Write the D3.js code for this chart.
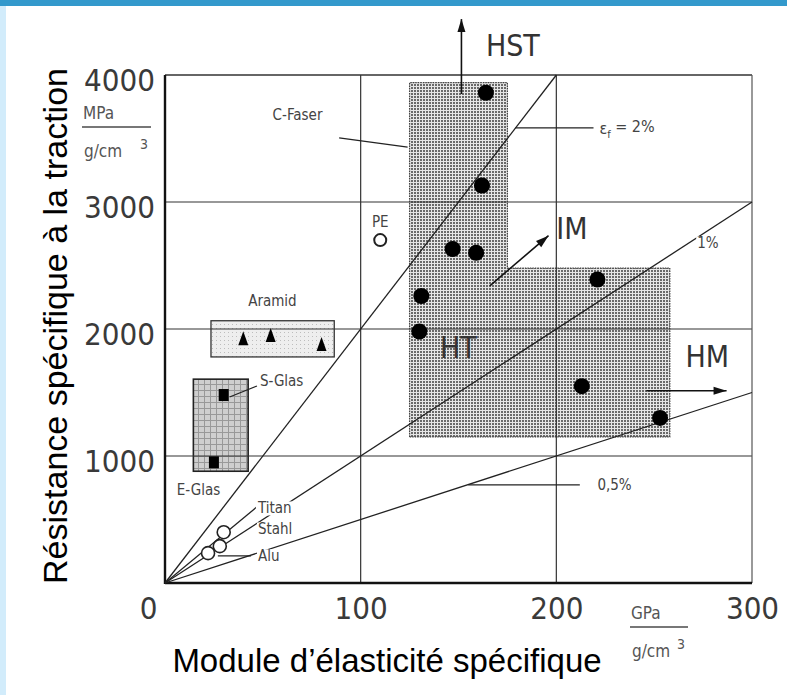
<!DOCTYPE html>
<html>
<head>
<meta charset="utf-8">
<script src="https://cdn.jsdelivr.net/npm/d3@7"></script>
<style>
  html, body { margin: 0; padding: 0; background: #fff; }
  svg { display: block; }
  .scan { font-family: "DejaVu Sans Condensed", "DejaVu Sans", sans-serif; font-stretch: condensed; }
  .title { font-family: "Liberation Sans", Arial, sans-serif; fill: #000; }
</style>
</head>
<body>
<svg id="chart" width="787" height="695"></svg>
<script>
// ---------- DATA ----------
const xTicks = [0, 100, 200, 300];
const yTicks = [1000, 2000, 3000, 4000];
const gridX = [100, 200];
const gridY = [1000, 2000, 3000];

// strain lines eps_f: [x0, y0, x1, y1]
const strainLines = [
  [0, 0, 200, 4000],   // 2%
  [0, 0, 300, 3000],   // 1%
  [0, 0, 300, 1500]    // 0.5%
];

// carbon fibres (HST / IM / HT / HM)
const cFiberPts = [
  [164, 3860], [162, 3130], [147, 2630], [159, 2600],
  [131, 2260], [130, 1980], [221, 2390], [213, 1550], [253, 1300]
];
const cFiberRegion = [[125, 1150], [125, 3940], [175, 3940], [175, 2480], [258, 2480], [258, 1150]];

const aramidPts = [[40, 1920], [54, 1945], [80, 1875]];
const aramidBox = [23.5, 1780, 86.5, 2065];

const glassPts = [[30, 1480], [25, 950]];   // S-Glas, E-Glas
const glassBox = [14.5, 880, 42.5, 1605];

const metalNames = ["Titan", "Stahl", "Alu"];
const metalPts = [[30, 400], [28, 290], [22, 235]];
const pePt = [110, 2700];

// leader lines [x0, y0, x1, y1]
const leaders = [
  [89, 3505, 124, 3432],   // C-Faser
  [179, 3583, 219, 3583],  // eps = 2%
  [155, 772, 212, 772],    // 0,5%
  [0, 0, 47, 600],         // Titan
  [27, 213, 44, 213],      // Alu
  [33, 1465, 47, 1551]     // S-Glas
];

// arrows [x0, y0, x1, y1]
const arrows = [
  [151.5, 3850, 151.5, 4440],  // HST
  [166, 2340, 196, 2735],      // IM
  [246, 1514, 287, 1514]       // HM
];

// small labels [text, x, y]
const smallLabels = [
  ["C-Faser", 55, 3690],
  ["Aramid", 42.5, 2222],
  ["S-Glas", 48.5, 1593],
  ["E-Glas", 6, 738],
  ["Titan", 47.5, 590],
  ["Stahl", 47.5, 425],
  ["Alu", 47.5, 213],
  ["PE", 110, 2845],
  ["1%", 272, 2677],
  ["0,5%", 221, 772]
];
const bigLabels = [
  ["HST", 164, 4236],
  ["IM", 200, 2795],
  ["HT", 140.5, 1860],
  ["HM", 266, 1782]
];

// ---------- SETUP ----------
const svg = d3.select("#chart");
const x = d3.scaleLinear().domain([0, 300]).range([165, 752]);
const y = d3.scaleLinear().domain([0, 4000]).range([583, 75]);

// page frame: blue bar on top, pale strip at the left
svg.append("rect").attr("x", 0).attr("y", 0).attr("width", 787).attr("height", 695).attr("fill", "#fff");
svg.append("rect").attr("x", 0).attr("y", 0).attr("width", 6).attr("height", 695).attr("fill", "#d2ecfb");
svg.append("rect").attr("x", 0).attr("y", 0).attr("width", 787).attr("height", 6).attr("fill", "#3399cc");

const defs = svg.append("defs");
const dots = defs.append("pattern").attr("id", "dots")
  .attr("patternUnits", "userSpaceOnUse").attr("width", 3).attr("height", 3);
dots.append("rect").attr("width", 3).attr("height", 3).attr("fill", "#e6e6e6");
dots.append("rect").attr("width", 2).attr("height", 2).attr("fill", "#6a6a6a");

const grid = defs.append("pattern").attr("id", "grid")
  .attr("patternUnits", "userSpaceOnUse").attr("width", 6).attr("height", 6);
grid.append("rect").attr("width", 6).attr("height", 6).attr("fill", "#cfcfcf");
grid.append("path").attr("d", "M0,0.5H6M0.5,0V6").attr("stroke", "#999").attr("stroke-width", 1);

const light = defs.append("pattern").attr("id", "light")
  .attr("patternUnits", "userSpaceOnUse").attr("width", 4).attr("height", 4);
light.append("rect").attr("width", 4).attr("height", 4).attr("fill", "#eeeeee");
light.append("rect").attr("width", 1).attr("height", 1).attr("fill", "#bdbdbd");

// ---------- REGIONS ----------
svg.append("path")
  .attr("d", d3.line().x(d => x(d[0])).y(d => y(d[1]))(cFiberRegion) + "Z")
  .attr("fill", "url(#dots)")
  .attr("stroke", "#444").attr("stroke-width", 1.2).attr("stroke-dasharray", "1.5,1");

svg.append("rect")
  .attr("x", x(aramidBox[0])).attr("y", y(aramidBox[3]))
  .attr("width", x(aramidBox[2]) - x(aramidBox[0])).attr("height", y(aramidBox[1]) - y(aramidBox[3]))
  .attr("fill", "url(#light)").attr("stroke", "#333").attr("stroke-width", 1.3);

svg.append("rect")
  .attr("x", x(glassBox[0])).attr("y", y(glassBox[3]))
  .attr("width", x(glassBox[2]) - x(glassBox[0])).attr("height", y(glassBox[1]) - y(glassBox[3]))
  .attr("fill", "url(#grid)").attr("stroke", "#222").attr("stroke-width", 1.6);

// ---------- GRID + FRAME ----------
svg.selectAll("line.gx").data(gridX).join("line")
  .attr("x1", d => x(d)).attr("x2", d => x(d)).attr("y1", y(0)).attr("y2", y(4000))
  .attr("stroke", "#333").attr("stroke-width", 1.2);
svg.selectAll("line.gy").data(gridY).join("line")
  .attr("x1", x(0)).attr("x2", x(300)).attr("y1", d => y(d)).attr("y2", d => y(d))
  .attr("stroke", "#333").attr("stroke-width", 1.2);

svg.append("line").attr("x1", x(0)).attr("x2", x(300)).attr("y1", y(4000)).attr("y2", y(4000))
  .attr("stroke", "#333").attr("stroke-width", 1.4);
svg.append("line").attr("x1", x(300)).attr("x2", x(300)).attr("y1", y(0)).attr("y2", y(4000))
  .attr("stroke", "#555").attr("stroke-width", 1.2);
svg.append("line").attr("x1", x(0)).attr("x2", x(0)).attr("y1", y(0) + 1).attr("y2", y(4000))
  .attr("stroke", "#111").attr("stroke-width", 2.4);
svg.append("line").attr("x1", x(0)).attr("x2", x(300)).attr("y1", y(0)).attr("y2", y(0))
  .attr("stroke", "#111").attr("stroke-width", 2.4);

// ---------- STRAIN + LEADER LINES ----------
svg.selectAll("line.strain").data(strainLines).join("line")
  .attr("x1", d => x(d[0])).attr("y1", d => y(d[1])).attr("x2", d => x(d[2])).attr("y2", d => y(d[3]))
  .attr("stroke", "#222").attr("stroke-width", 1.3);
svg.selectAll("line.lead").data(leaders).join("line")
  .attr("x1", d => x(d[0])).attr("y1", d => y(d[1])).attr("x2", d => x(d[2])).attr("y2", d => y(d[3]))
  .attr("stroke", "#222").attr("stroke-width", 1.2);

// arrows
svg.selectAll("line.arrow").data(arrows).join("line")
  .attr("x1", d => x(d[0])).attr("y1", d => y(d[1])).attr("x2", d => x(d[2])).attr("y2", d => y(d[3]))
  .attr("stroke", "#111").attr("stroke-width", 1.6);
svg.selectAll("path.head").data(arrows).join("path")
  .attr("d", "M0,0L-13,-4L-13,4Z")
  .attr("fill", "#111")
  .attr("transform", d => {
    const a = Math.atan2(y(d[3]) - y(d[1]), x(d[2]) - x(d[0])) * 180 / Math.PI;
    return `translate(${x(d[2])},${y(d[3])}) rotate(${a})`;
  });

// ---------- LABELS (white behind, so the lines break) ----------
function label(g, t, px, py, size, anchor) {
  const txt = g.append("text").attr("class", "scan")
    .attr("x", px).attr("y", py).attr("dy", "0.36em")
    .attr("text-anchor", anchor || "start")
    .attr("font-size", size).attr("fill", "#444").text(t);
  const b = txt.node().getBBox();
  g.insert("rect", "text").attr("x", b.x - 1).attr("y", b.y + 2).attr("width", b.width + 2).attr("height", b.height - 4).attr("fill", "#fff");
  return txt;
}
const lg = svg.append("g");
smallLabels.forEach(d => {
  const g = lg.append("g");
  label(g, d[0], x(d[1]), y(d[2]), 15, d[0] === "PE" ? "middle" : "start");
});
// eps_f = 2%
const eg = lg.append("g");
const et = eg.append("text").attr("class", "scan").attr("x", x(222)).attr("y", y(3583)).attr("dy", "0.36em")
  .attr("font-size", 16).attr("fill", "#444");
et.append("tspan").text("ε");
et.append("tspan").attr("font-size", 11).attr("dy", "0.35em").text("f");
et.append("tspan").attr("dy", "-0.35em").text(" = 2%");

bigLabels.forEach(d => {
  lg.append("text").attr("class", "scan")
    .attr("x", x(d[1])).attr("y", y(d[2])).attr("dy", "0.36em")
    .attr("font-size", 30).attr("fill", "#333").text(d[0]);
});

// ---------- MARKERS ----------
svg.selectAll("circle.cf").data(cFiberPts).join("circle")
  .attr("cx", d => x(d[0])).attr("cy", d => y(d[1])).attr("r", 8).attr("fill", "#000");

svg.selectAll("path.ar").data(aramidPts).join("path")
  .attr("d", "M0,-8L5,6L-5,6Z")
  .attr("transform", d => `translate(${x(d[0])},${y(d[1])})`).attr("fill", "#000");

svg.selectAll("rect.gl").data(glassPts).join("rect")
  .attr("x", d => x(d[0]) - 5).attr("y", d => y(d[1]) - 6).attr("width", 10).attr("height", 12).attr("fill", "#000");

svg.selectAll("circle.mt").data(metalPts).join("circle")
  .attr("cx", d => x(d[0])).attr("cy", d => y(d[1])).attr("r", 6.5)
  .attr("fill", "#fff").attr("stroke", "#222").attr("stroke-width", 1.6);

svg.append("circle").attr("cx", x(pePt[0])).attr("cy", y(pePt[1])).attr("r", 6)
  .attr("fill", "#fff").attr("stroke", "#222").attr("stroke-width", 2);

// ---------- AXES ----------
const ax = svg.append("g").attr("transform", `translate(0,${y(0)})`)
  .call(d3.axisBottom(x).tickValues(xTicks).tickSize(0).tickPadding(14).tickFormat(d3.format("d")));
const ay = svg.append("g").attr("transform", `translate(${x(0)},0)`)
  .call(d3.axisLeft(y).tickValues(yTicks).tickSize(0).tickPadding(10).tickFormat(d3.format("d")));
[ax, ay].forEach(g => {
  g.select(".domain").remove();
  g.selectAll("text").attr("class", "scan").attr("font-size", 31).attr("fill", "#3a3a3a")
    .attr("font-family", null);
});
ay.selectAll("text").attr("dy", "0.5em");
ax.selectAll("text").filter(d => d === 0).attr("dx", -17);

// units
function unit(px, py, top, lineW) {
  const g = svg.append("g").attr("class", "scan").attr("fill", "#555").attr("font-size", 17);
  g.append("text").attr("x", px + 1).attr("y", py - 8).text(top);
  g.append("line").attr("x1", px).attr("x2", px + lineW).attr("y1", py).attr("y2", py)
    .attr("stroke", "#777").attr("stroke-width", 2);
  g.append("text").attr("x", px + 2).attr("y", py + 30).text("g/cm");
  g.append("text").attr("x", px + lineW - 11).attr("y", py + 22).attr("font-size", 14).text("3");
}
unit(82, 127, "MPa", 69);
unit(630, 627, "GPa", 58);

// ---------- TITLES ----------
svg.append("text").attr("class", "title")
  .attr("x", 387).attr("y", 672).attr("text-anchor", "middle").attr("font-size", 33)
  .text("Module d’élasticité spécifique");
svg.append("text").attr("class", "title")
  .attr("transform", "translate(67,326) rotate(-90)").attr("text-anchor", "middle").attr("font-size", 34)
  .text("Résistance spécifique à la traction");
</script>
</body>
</html>
